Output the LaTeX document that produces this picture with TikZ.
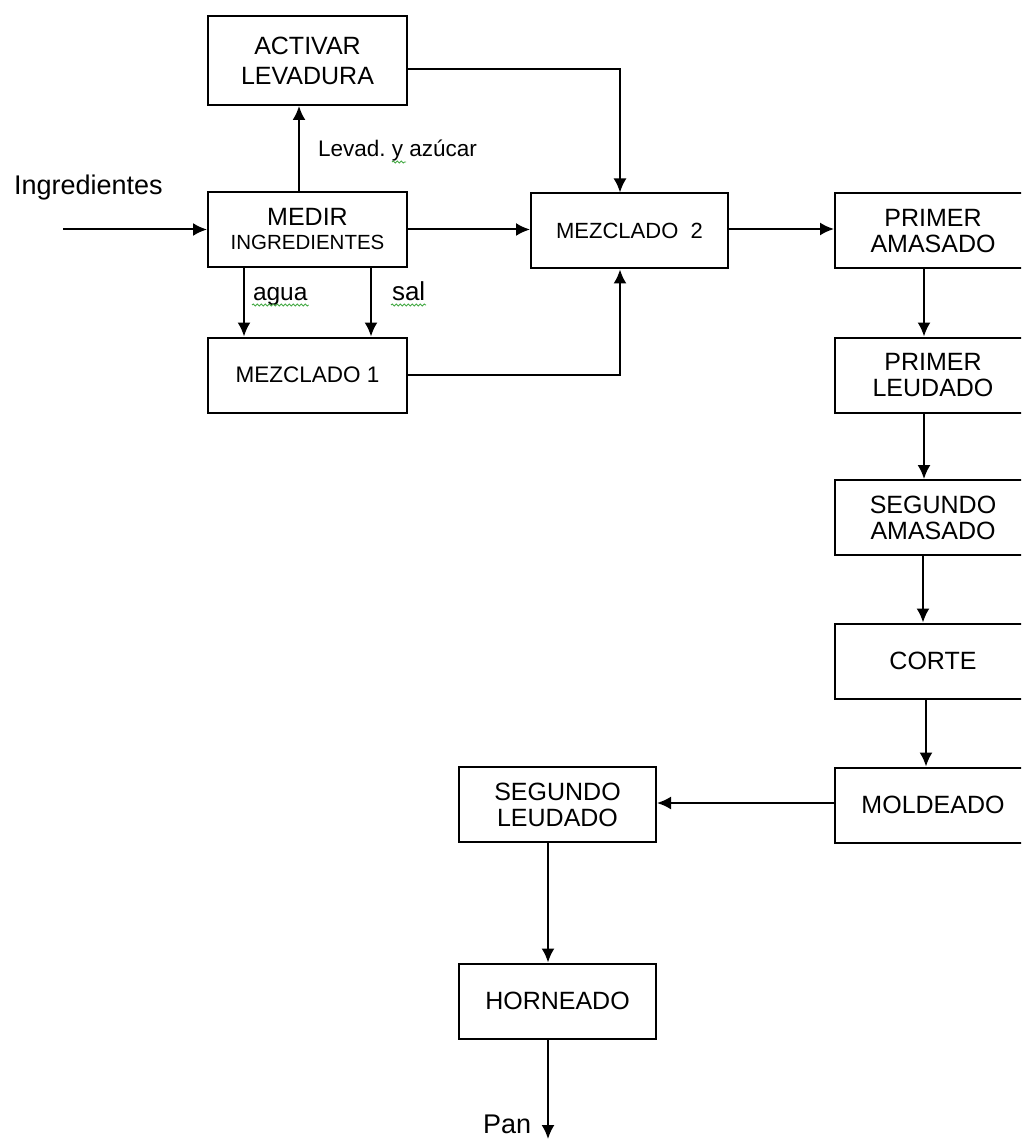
\documentclass[tikz,border=0pt]{standalone}
\usepackage{fontspec}
\setmainfont{Liberation Sans}
\usetikzlibrary{arrows.meta,decorations.pathmorphing}
\definecolor{spellgreen}{RGB}{70,170,70}
\tikzset{
	block/.style  = {draw, line width=2pt, rectangle, minimum width=197pt, minimum height=75pt, align=center, inner sep=0pt, font=\fontsize{25}{26}\selectfont},
	input/.style  = {coordinate},
	output/.style = {coordinate},
	tag/.style    = {inner sep=0pt, anchor=base west},
	spell/.style  = {spellgreen, line width=0.9pt, decorate, decoration={snake, amplitude=1pt, segment length=4pt}},
}

\begin{document}
\begin{tikzpicture}[x=1pt, y=-1pt, >={Latex[length=14pt,width=13pt]}, line width=2pt]
	\useasboundingbox (0,0) rectangle (1021,1139);
	\clip (0,0) rectangle (1021,1139);

	% Draw the left part nodes
	\node[block, minimum width=199pt, minimum height=89pt, font=\fontsize{25}{30}\selectfont] (activar) at (307.5,60.5) {ACTIVAR\\LEVADURA};
	\node[block, minimum width=199pt] (medir) at (307.5,229.5) {MEDIR\\[-2pt]{\fontsize{20.5}{24}\selectfont INGREDIENTES}};
	\node[block, minimum width=199pt, font=\fontsize{22.5}{26}\selectfont] (mezcla1) at (307.5,375) {MEZCLADO 1};
	\node[block, font=\fontsize{22}{26}\selectfont] (mezcla2) at (629.5,231) {MEZCLADO\ \ 2};

	% Draw the right column nodes
	\node[block, minimum width=196pt] (primam) at (933,231) {PRIMER\\AMASADO};
	\node[block, minimum width=196pt] (primleu) at (933,375) {PRIMER\\LEUDADO};
	\node[block, minimum width=196pt] (segam) at (933,517.5) {SEGUNDO\\AMASADO};
	\node[block, minimum width=196pt] (corte) at (933,661) {CORTE};
	\node[block, minimum width=196pt] (molde) at (933,805) {MOLDEADO};

	% Draw the bottom nodes
	\node[block] (segleu) at (557.5,804.5) {SEGUNDO\\LEUDADO};
	\node[block] (horno) at (557.5,1001) {HORNEADO};

	\node[input] (entrada) at (63,229.5) {};
	\node[output] (salida) at (548,1139) {};

	% Labels
	\node[tag, font=\fontsize{27}{27}\selectfont] (ingr) at (13,195) {Ingredientes};
	\node[tag, font=\fontsize{22.5}{27}\selectfont] (levad) at (317,157) {Levad.\ y azúcar};
	\node[tag, font=\fontsize{24.5}{27}\selectfont] (agua) at (252,300) {agua};
	\node[tag, font=\fontsize{26}{27}\selectfont] (sal) at (391,300) {sal};
	\node[tag, font=\fontsize{27}{27}\selectfont] (pan) at (482,1133) {Pan};

	% Connect everything together
	\draw[->] (entrada) -- (medir.west);
	\draw[->] ([xshift=-8.5pt]medir.north) -- ([xshift=-8.5pt]activar.south);
	\draw[->] ([yshift=-8.5pt]activar.east) -| ([xshift=-9.5pt]mezcla2.north);
	\draw[->] (medir.east) -- (medir.east -| mezcla2.west);
	\draw[->] ([xshift=-63.5pt]medir.south) -- ([xshift=-63.5pt]mezcla1.north);
	\draw[->] ([xshift=63.5pt]medir.south) -- ([xshift=63.5pt]mezcla1.north);
	\draw[->] (mezcla1.east) -| ([xshift=-9.5pt]mezcla2.south);
	\draw[->] ([yshift=2pt]mezcla2.east) -- ([yshift=2pt]mezcla2.east -| primam.west);

	\draw[->] ([xshift=-9pt]primam.south) -- ([xshift=-9pt]primleu.north);
	\draw[->] ([xshift=-9pt]primleu.south) -- ([xshift=-9pt]segam.north);
	\draw[->] ([xshift=-10pt]segam.south) -- ([xshift=-10pt]corte.north);
	\draw[->] ([xshift=-7pt]corte.south) -- ([xshift=-7pt]molde.north);
	\draw[->] ([yshift=2pt]molde.west) -- ([yshift=2pt]molde.west -| segleu.east);
	\draw[->] ([xshift=-9.5pt]segleu.south) -- ([xshift=-9.5pt]horno.north);
	\draw[->] ([xshift=-9.5pt]horno.south) -- (salida);

	% Spell check marks
	\draw[spell] ([yshift=-5pt]agua.base west) -- ([yshift=-5pt]agua.base east);
	\draw[spell] ([yshift=-5pt]sal.base west) -- ([yshift=-5pt]sal.base east);
	\draw[spell] (392,162) -- (406,162);
\end{tikzpicture}
\end{document}
